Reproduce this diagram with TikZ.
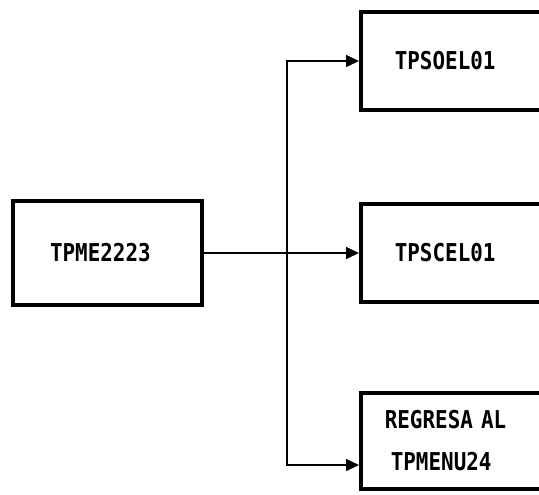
\documentclass[tikz,border=0pt]{standalone}
\usepackage{fontspec}
\newfontfamily\progfont{DejaVu Sans Mono}[FakeStretch=0.85]
\usetikzlibrary{arrows.meta,positioning}

\begin{document}
\begin{tikzpicture}[
  x=0.5pt,y=-0.5pt,
  prog/.style={draw,line width=1.8pt,
    font=\fontsize{12.3pt}{21pt}\selectfont\progfont\bfseries},
  call/.style={prog,anchor=west,minimum height=49pt,
    text width=100pt,inner xsep=17pt,align=left},
  conn/.style={-{Triangle[length=6.5pt,width=6pt]},line width=0.75pt}
]
\clip (0,0) rectangle (539,494);
\node[prog,minimum width=94.5pt,minimum height=52pt,
  text width=57.5pt,align=left,inner xsep=18.5pt] (main) at (107.5,253) {TPME2223};
\node[call] (soel) at (359,61) {TPSOEL01};
\node[call] (scel) at (359,253) {TPSCEL01};
\node[call,minimum height=48pt,inner xsep=12pt] (menu) at (359,441)
  {REGRESA AL\\\hspace*{3pt}TPMENU24};
\coordinate (fork) at (287,253);
\draw[conn] (main) -- (scel);
\draw[conn] (fork) |- (soel.west);
\draw[conn] (fork) |- ([yshift=-12pt]menu.west);
\end{tikzpicture}
\end{document}
